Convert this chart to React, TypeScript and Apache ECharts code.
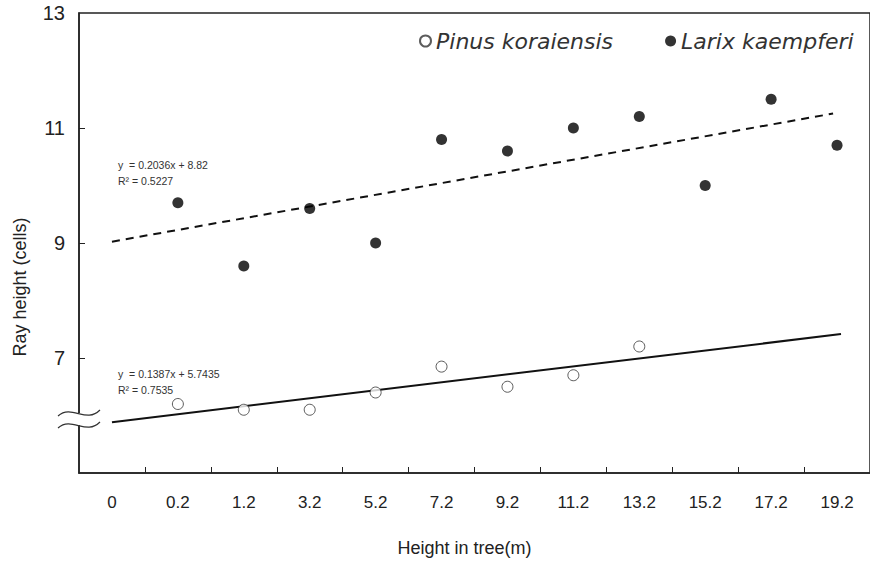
import React, { useEffect, useRef } from "react";
import * as echarts from "echarts";

const categories = ["0", "0.2", "1.2", "3.2", "5.2", "7.2", "9.2", "11.2", "13.2", "15.2", "17.2", "19.2"];
const pinusIdx = [1, 2, 3, 4, 5, 6, 7, 8];
const pinusValues = [6.2, 6.1, 6.1, 6.4, 6.85, 6.5, 6.7, 7.2];
const larixIdx = [1, 2, 3, 4, 5, 6, 7, 8, 9, 10, 11];
const larixValues = [9.7, 8.6, 9.6, 9.0, 10.8, 10.6, 11.0, 11.2, 10.0, 11.5, 10.7];
// trend lines: y = slope * (index + 1) + intercept
const larixTrend = { slope: 0.2036, intercept: 8.82, from: 0, to: 10.94 };
const pinusTrend = { slope: 0.1387, intercept: 5.7435, from: 0, to: 11.06 };
const yTickValues = [7, 9, 11];
const yLabelValues = [7, 9, 11, 13];

const trendData = (t: { slope: number; intercept: number; from: number; to: number }) => [
  [t.from, t.slope * (t.from + 1) + t.intercept],
  [t.to, t.slope * (t.to + 1) + t.intercept],
];

export default function App() {
  const ref = useRef<HTMLDivElement>(null);
  useEffect(() => {
    if (!ref.current) return;
    const chart = echarts.init(ref.current, null, { renderer: "svg" });
    const axisColor = "#222";
    const wave = (y: number) => ({
      type: "bezierCurve",
      shape: { x1: 58, y1: y + 3, cpx1: 72, cpy1: y - 9, cpx2: 86, cpy2: y + 11, x2: 100, y2: y - 3 },
      style: { stroke: "#333", lineWidth: 1.2, fill: null },
      z: 100,
    });
    chart.setOption({
      animation: false,
      backgroundColor: "#fff",
      grid: { left: 79, top: 13, width: 802, height: 468, show: true, borderColor: axisColor, borderWidth: 1.5 },
      legend: {
        left: 414,
        top: 25,
        itemGap: 52,
        itemWidth: 11,
        itemHeight: 11,
        textStyle: { fontStyle: "italic", fontSize: 22, color: "#333", fontFamily: "DejaVu Sans, Verdana, sans-serif" },
        data: ["Pinus koraiensis", "Larix kaempferi"],
      },
      xAxis: {
        type: "value",
        min: -0.5,
        max: 11.5,
        splitLine: { show: false },
        axisLine: { show: true, onZero: false, lineStyle: { color: axisColor, width: 1.5 } },
        axisTick: { show: true, inside: true, length: 6, customValues: categories.slice(0, -1).map((_, i) => i + 0.5), lineStyle: { color: axisColor } },
        axisLabel: {
          customValues: categories.map((_, i) => i),
          formatter: (v: number) => categories[Math.round(v)] ?? "",
          fontSize: 17,
          margin: 21,
          color: "#222",
          fontFamily: "Liberation Sans Narrow, Arial Narrow, Liberation Sans, sans-serif",
        },
        name: "Height in tree(m)",
        nameLocation: "middle",
        nameGap: 66,
        nameTextStyle: { fontSize: 18, color: "#222", fontFamily: "Liberation Sans Narrow, Arial Narrow, Liberation Sans, sans-serif", padding: [0, 20, 0, 0] },
      },
      yAxis: {
        type: "value",
        min: 5,
        max: 13,
        splitLine: { show: false },
        axisLine: { show: true, onZero: false, lineStyle: { color: axisColor, width: 1.5 } },
        axisTick: { show: true, inside: true, length: 6, customValues: yTickValues, lineStyle: { color: axisColor } },
        axisLabel: { customValues: yLabelValues, fontSize: 20, margin: 14, color: "#222", fontFamily: "Liberation Sans, Arial, sans-serif" },
      },
      graphic: [
        { type: "rect", shape: { x: 74, y: 413, width: 10, height: 12 }, style: { fill: "#fff" }, z: 99 },
        wave(413),
        wave(425),
        {
          type: "text",
          x: 20,
          y: 287,
          rotation: Math.PI / 2,
          style: { text: "Ray height (cells)", fontSize: 18, fill: "#222", align: "center", verticalAlign: "middle", fontFamily: "Liberation Sans, Arial, sans-serif" },
        },
        {
          type: "text",
          x: 118,
          y: 157,
          style: { text: "y  = 0.2036x + 8.82\nR² = 0.5227", fontSize: 10.5, lineHeight: 16, fill: "#333", fontFamily: "Liberation Sans, Arial, sans-serif" },
        },
        {
          type: "text",
          x: 118,
          y: 366,
          style: { text: "y  = 0.1387x + 5.7435\nR² = 0.7535", fontSize: 10.5, lineHeight: 16, fill: "#333", fontFamily: "Liberation Sans, Arial, sans-serif" },
        },
      ],
      series: [
        {
          name: "Pinus koraiensis",
          type: "scatter",
          symbol: "circle",
          symbolSize: 11,
          itemStyle: { color: "#fff", borderColor: "#333", borderWidth: 1 },
          data: pinusIdx.map((i, k) => [i, pinusValues[k]]),
          z: 5,
        },
        {
          name: "Larix kaempferi",
          type: "scatter",
          symbol: "circle",
          symbolSize: 11,
          itemStyle: { color: "#000" },
          data: larixIdx.map((i, k) => [i, larixValues[k]]),
          z: 5,
        },
        {
          name: "larixTrend",
          type: "line",
          symbol: "none",
          lineStyle: { color: "#111", width: 2, type: [8, 6] },
          data: trendData(larixTrend),
        },
        {
          name: "pinusTrend",
          type: "line",
          symbol: "none",
          lineStyle: { color: "#111", width: 2 },
          data: trendData(pinusTrend),
        },
      ],
    });
    return () => chart.dispose();
  }, []);
  return <div ref={ref} style={{ position: "fixed", left: 0, top: 0, width: 870, height: 562 }} />;
}
